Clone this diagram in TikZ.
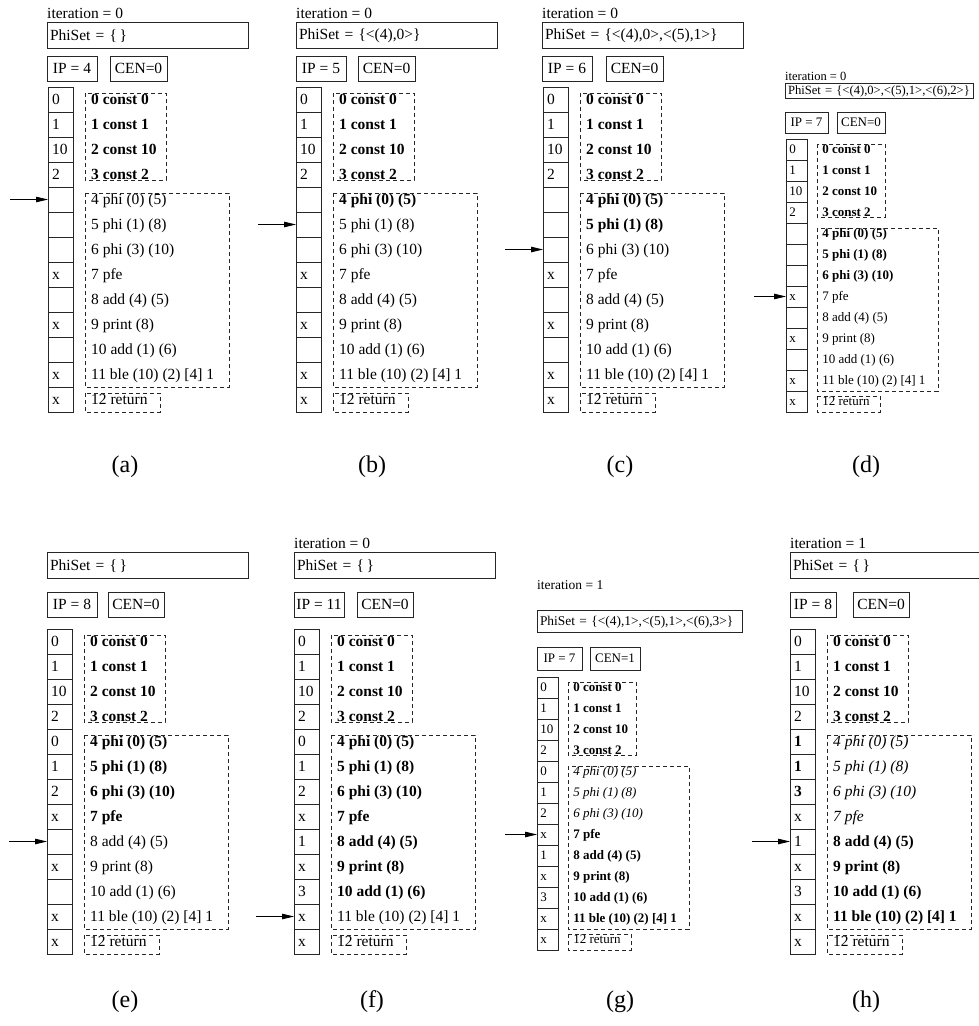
\documentclass[tikz,border=0pt]{standalone}
\usepackage{fontspec}
\setmainfont{Liberation Serif}
\usetikzlibrary{arrows.meta}
\expandafter\def\csname code0\endcsname{0 const 0}
\expandafter\def\csname code1\endcsname{1 const 1}
\expandafter\def\csname code2\endcsname{2 const 10}
\expandafter\def\csname code3\endcsname{3 const 2}
\expandafter\def\csname code4\endcsname{4 phi (0) (5)}
\expandafter\def\csname code5\endcsname{5 phi (1) (8)}
\expandafter\def\csname code6\endcsname{6 phi (3) (10)}
\expandafter\def\csname code7\endcsname{7 pfe}
\expandafter\def\csname code8\endcsname{8 add (4) (5)}
\expandafter\def\csname code9\endcsname{9 print (8)}
\expandafter\def\csname code10\endcsname{10 add (1) (6)}
\expandafter\def\csname code11\endcsname{11 ble (10) (2) [4] 1}
\expandafter\def\csname code12\endcsname{12 return}
\def\rfb{\bfseries}\def\rfr{}\def\rfi{\itshape}
\def\vs{\rule[-0.16em]{0pt}{1em}}
\def\fs#1{\fontsize{#1}{#1}\selectfont}
\tikzset{
  cell/.style={draw=black!85, line width=1pt, inner ysep=0pt, outer sep=0pt, align=left},
  dbox/.style={draw=black!85, line width=0.8pt, dash pattern=on 4pt off 3pt},
  hbox/.style={draw=black!85, line width=1pt, anchor=north west, inner ysep=0pt, outer sep=0pt},
  txt/.style={inner sep=0pt, anchor=base west},
  arr/.style={line width=0.8pt, -{Triangle[length=12pt,width=5.5pt]}},
  lab/.style={font=\fs{24}},
}
% #1 x, #2 y, #3 scale, #4 font size, #5 arrow row, #6 list, #7 prefix
\newcommand\core[7]{%
\begin{scope}[shift={(#1,#2)}, scale=#3]
  \def\pfont{\fs{#4}}
  \foreach \val/\sty [count=\i from 0] in {#6} {
    \node[cell, font=\pfont, text width={17*#3pt}, inner xsep={4*#3pt}, minimum height={25*#3pt}] (#7c\i) at (12.5, 25*\i+12.5) {\vs\val};
    \node[anchor=west, inner sep=0pt, font=\pfont] (#7t\i) at (43, 25*\i+12.5) {\vs\csname rf\sty\endcsname\csname code\i\endcsname};
  }
  \draw[dbox] (37,6) rectangle (118,93);
  \draw[dbox] (37,106) rectangle (181,300);
  \draw[dbox] (37,306) rectangle (112,325);
  \coordinate (#7a) at (-38, 25*#5+12.5);
  \draw[arr] (#7a) -- (#7c#5.west);
\end{scope}}
% name, x, y, w, h, text
\newcommand\wbox[6]{\node[hbox, text width={#4pt-6pt}, inner xsep=3pt, minimum height=#5pt, align=left] (#1) at (#2,#3) {\vs #6};}
\newcommand\cbox[6]{\node[hbox, minimum width=#4pt, minimum height=#5pt, inner xsep=0pt, align=center] (#1) at (#2,#3) {\vs #6};}

\begin{document}
\begin{tikzpicture}[x=1pt, y=-1pt]
\useasboundingbox (0,0) rectangle (979,1026);
\clip (0,0) rectangle (979,1026);

% ---------- (a)
\begin{scope}[font=\fs{15.5}]
\node[txt] (a-it) at (47,18) {iteration = 0};
\wbox{a-phi}{47}{22}{201}{26}{PhiSet = \{\,\}}
\cbox{a-ip}{47}{56}{50}{25}{IP = 4}
\cbox{a-cen}{110}{56}{57}{25}{CEN=0}
\end{scope}
\core{48}{87}{1}{15.5}{4}{0/b,1/b,10/b,2/b,{}/r,{}/r,{}/r,x/r,{}/r,x/r,{}/r,x/r,x/r}{a-}
\node[lab] (a-lab) at (125,467) {(a)};

% ---------- (b)
\begin{scope}[font=\fs{15.5}]
\node[txt] (b-it) at (296,18) {iteration = 0};
\wbox{b-phi}{296}{22}{201}{26}{PhiSet = \{<(4),0>\}}
\cbox{b-ip}{296}{56}{50}{25}{IP = 5}
\cbox{b-cen}{358}{56}{57}{25}{CEN=0}
\end{scope}
\core{296}{87}{1}{15.5}{5}{0/b,1/b,10/b,2/b,{}/b,{}/r,{}/r,x/r,{}/r,x/r,{}/r,x/r,x/r}{b-}
\node[lab] (b-lab) at (372,467) {(b)};

% ---------- (c)
\begin{scope}[font=\fs{15.5}]
\node[txt] (c-it) at (542,18) {iteration = 0};
\wbox{c-phi}{542}{22}{201}{26}{PhiSet = \{<(4),0>,<(5),1>\}}
\cbox{c-ip}{542}{56}{50}{25}{IP = 6}
\cbox{c-cen}{606}{56}{57}{25}{CEN=0}
\end{scope}
\core{543}{87}{1}{15.5}{6}{0/b,1/b,10/b,2/b,{}/b,{}/b,{}/r,x/r,{}/r,x/r,{}/r,x/r,x/r}{c-}
\node[lab] (c-lab) at (620,467) {(c)};

% ---------- (d)
\node[txt, font=\fs{12.5}] (d-it) at (785,80) {iteration = 0};
\begin{scope}[font=\fs{12.6}]
\wbox{d-phi}{785}{83}{188}{15}{PhiSet = \{<(4),0>,<(5),1>,<(6),2>\}}
\end{scope}
\begin{scope}[font=\fs{13}]
\cbox{d-ip}{785}{112}{43}{21}{IP = 7}
\cbox{d-cen}{837}{112}{48}{21}{CEN=0}
\end{scope}
\core{786}{139}{0.84}{13}{7}{0/b,1/b,10/b,2/b,{}/b,{}/b,{}/b,x/r,{}/r,x/r,{}/r,x/r,x/r}{d-}
\node[lab] (d-lab) at (866,467) {(d)};

% ---------- (e)
\begin{scope}[font=\fs{15.5}]
\wbox{e-phi}{47}{552}{201}{26}{PhiSet = \{\,\}}
\cbox{e-ip}{47}{592}{50}{25}{IP = 8}
\cbox{e-cen}{108}{592}{56}{25}{CEN=0}
\end{scope}
\core{47}{629}{1}{15.5}{8}{0/b,1/b,10/b,2/b,0/b,1/b,2/b,x/b,{}/r,x/r,{}/r,x/r,x/r}{e-}
\node[lab] (e-lab) at (125,1002) {(e)};

% ---------- (f)
\begin{scope}[font=\fs{15.5}]
\node[txt] (f-it) at (294,548) {iteration = 0};
\wbox{f-phi}{294}{552}{201}{26}{PhiSet = \{\,\}}
\cbox{f-ip}{294}{592}{50}{25}{IP = 11}
\cbox{f-cen}{357}{592}{56}{25}{CEN=0}
\end{scope}
\core{294}{629}{1}{15.5}{11}{0/b,1/b,10/b,2/b,0/b,1/b,2/b,x/b,1/b,x/b,3/b,x/r,x/r}{f-}
\node[lab] (f-lab) at (372,1002) {(f)};

% ---------- (g)
\node[txt, font=\fs{13.5}] (g-it) at (537,589) {iteration = 1};
\begin{scope}[font=\fs{13.4}]
\wbox{g-phi}{537}{610}{205}{22}{PhiSet = \{<(4),1>,<(5),1>,<(6),3>\}}
\end{scope}
\begin{scope}[font=\fs{13}]
\cbox{g-ip}{537}{647}{45}{23}{IP = 7}
\cbox{g-cen}{590}{647}{50}{23}{CEN=1}
\end{scope}
\core{537}{677}{0.84}{13}{7}{0/b,1/b,10/b,2/b,0/i,1/i,2/i,x/b,1/b,x/b,3/b,x/b,x/r}{g-}
\node[lab] (g-lab) at (620,1002) {(g)};

% ---------- (h)
\begin{scope}[font=\fs{15.5}]
\node[txt] (h-it) at (790,548) {iteration = 1};
\wbox{h-phi}{790}{552}{201}{26}{PhiSet = \{\,\}}
\cbox{h-ip}{790}{592}{46}{25}{IP = 8}
\cbox{h-cen}{853}{592}{56}{25}{CEN=0}
\end{scope}
\core{790}{629}{1}{15.5}{8}{0/b,1/b,10/b,2/b,\textbf{1}/i,\textbf{1}/i,\textbf{3}/i,x/i,1/b,x/b,3/b,x/b,x/r}{h-}
\node[lab] (h-lab) at (866,1002) {(h)};
\end{tikzpicture}
\end{document}
